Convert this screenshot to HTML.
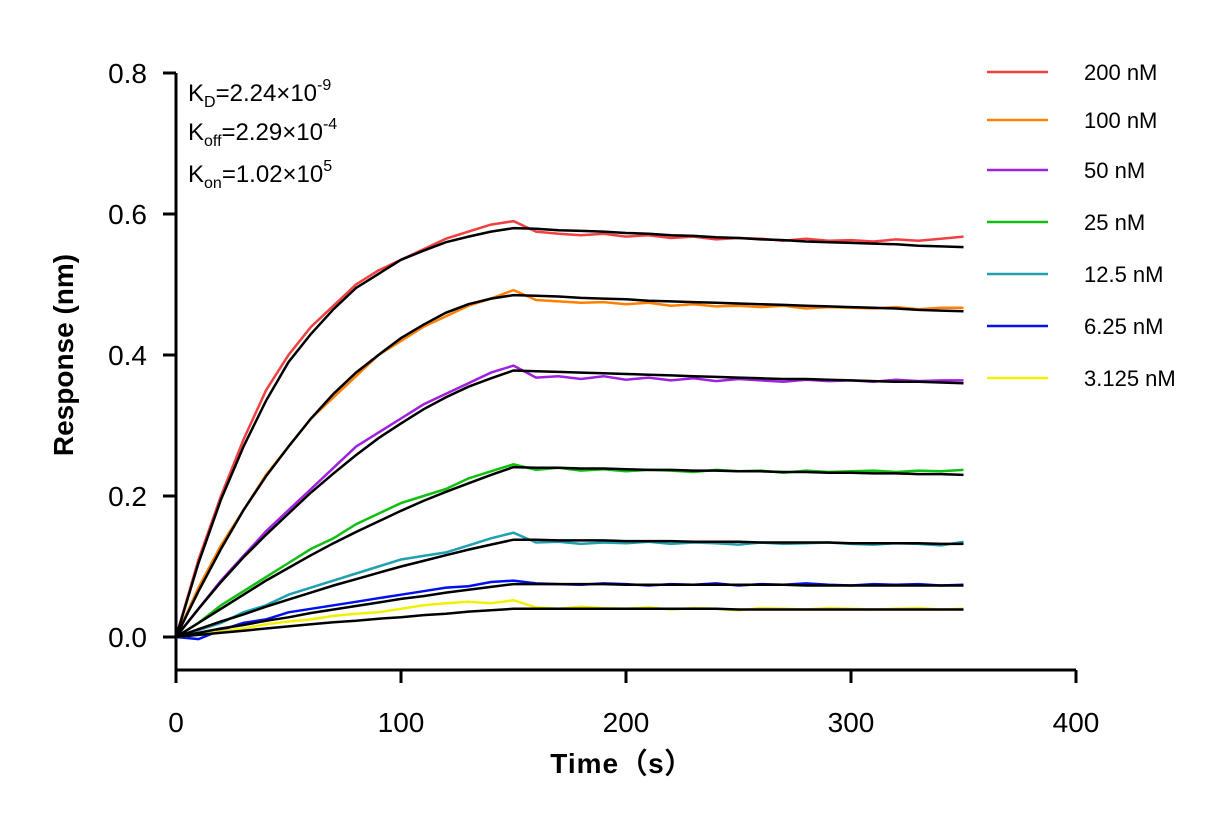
<!DOCTYPE html>
<html><head><meta charset="utf-8"><style>
body{margin:0;background:#fff;}
svg text{font-family:"Liberation Sans",Arial,sans-serif;}
</style></head><body>
<svg id="chart" width="1231" height="825" xmlns="http://www.w3.org/2000/svg"></svg>
<script>
const times=[0,10,20,30,40,50,60,70,80,90,100,110,120,130,140,150,160,170,180,190,200,210,220,230,240,250,260,270,280,290,300,310,320,330,340,350];
const seriesNames=["200 nM","100 nM","50 nM","25 nM","12.5 nM","6.25 nM","3.125 nM"];
const seriesColors=["#f04040","#ff8000","#a020e0","#10c010","#20a0b0","#0010f0","#f0f000"];
const data200=[0,0.11,0.2,0.28,0.35,0.40,0.44,0.47,0.50,0.52,0.535,0.55,0.565,0.575,0.585,0.59,0.575,0.572,0.57,0.572,0.568,0.57,0.566,0.568,0.564,0.566,0.565,0.562,0.565,0.562,0.563,0.561,0.564,0.562,0.565,0.568];
const data100=[0,0.07,0.13,0.18,0.23,0.27,0.31,0.34,0.37,0.40,0.42,0.44,0.455,0.47,0.48,0.492,0.478,0.476,0.474,0.475,0.472,0.474,0.47,0.472,0.469,0.47,0.468,0.47,0.466,0.468,0.467,0.466,0.468,0.465,0.467,0.467];
const data50=[0,0.04,0.08,0.115,0.15,0.18,0.21,0.24,0.27,0.29,0.31,0.33,0.345,0.36,0.375,0.385,0.368,0.37,0.366,0.37,0.365,0.368,0.364,0.367,0.363,0.366,0.364,0.362,0.365,0.363,0.364,0.362,0.365,0.363,0.364,0.364];
const data25=[0,0.02,0.045,0.065,0.085,0.105,0.125,0.14,0.16,0.175,0.19,0.2,0.21,0.225,0.235,0.245,0.237,0.24,0.236,0.238,0.235,0.237,0.236,0.234,0.237,0.235,0.236,0.233,0.236,0.234,0.235,0.236,0.234,0.236,0.235,0.237];
const data12=[0,0.01,0.02,0.035,0.045,0.06,0.07,0.08,0.09,0.1,0.11,0.115,0.12,0.13,0.14,0.148,0.134,0.135,0.132,0.134,0.133,0.135,0.132,0.134,0.133,0.131,0.134,0.132,0.133,0.134,0.132,0.131,0.133,0.132,0.13,0.135];
const data6=[0,-0.003,0.01,0.02,0.025,0.035,0.04,0.045,0.05,0.055,0.06,0.065,0.07,0.072,0.078,0.08,0.076,0.075,0.074,0.076,0.075,0.073,0.075,0.074,0.076,0.073,0.075,0.074,0.076,0.074,0.073,0.075,0.074,0.075,0.073,0.074];
const data3=[0,0.003,0.008,0.012,0.018,0.022,0.025,0.03,0.033,0.035,0.04,0.045,0.048,0.05,0.048,0.052,0.042,0.04,0.043,0.041,0.04,0.042,0.039,0.041,0.04,0.038,0.041,0.04,0.039,0.041,0.04,0.039,0.04,0.041,0.039,0.04];
const fit200=[0,0.105,0.195,0.27,0.335,0.39,0.43,0.465,0.495,0.515,0.535,0.548,0.56,0.568,0.575,0.58,0.579,0.577,0.576,0.575,0.573,0.572,0.57,0.569,0.567,0.566,0.564,0.563,0.561,0.56,0.559,0.558,0.557,0.555,0.554,0.553];
const fit100=[0,0.065,0.125,0.18,0.228,0.27,0.31,0.345,0.375,0.4,0.424,0.443,0.46,0.472,0.48,0.485,0.484,0.483,0.481,0.48,0.479,0.477,0.476,0.475,0.474,0.473,0.472,0.471,0.47,0.469,0.468,0.467,0.466,0.464,0.463,0.462];
const fit50=[0,0.04,0.078,0.113,0.145,0.175,0.205,0.232,0.258,0.282,0.303,0.323,0.34,0.355,0.367,0.378,0.377,0.376,0.375,0.374,0.373,0.372,0.371,0.37,0.369,0.368,0.367,0.366,0.366,0.365,0.364,0.363,0.362,0.362,0.361,0.36];
const fit25=[0,0.02,0.04,0.06,0.08,0.098,0.116,0.133,0.149,0.164,0.179,0.193,0.206,0.218,0.23,0.241,0.24,0.24,0.239,0.239,0.238,0.237,0.237,0.236,0.236,0.235,0.235,0.234,0.234,0.233,0.233,0.232,0.232,0.231,0.231,0.23];
const fit12=[0,0.011,0.022,0.032,0.043,0.053,0.063,0.073,0.082,0.091,0.1,0.108,0.116,0.124,0.131,0.138,0.138,0.137,0.137,0.137,0.136,0.136,0.136,0.135,0.135,0.135,0.134,0.134,0.134,0.134,0.133,0.133,0.133,0.133,0.132,0.132];
const fit6=[0,0.006,0.012,0.017,0.023,0.028,0.034,0.039,0.044,0.049,0.054,0.058,0.063,0.067,0.071,0.075,0.075,0.075,0.075,0.075,0.074,0.074,0.074,0.074,0.074,0.074,0.074,0.074,0.073,0.073,0.073,0.073,0.073,0.073,0.073,0.073];
const fit3=[0,0.003,0.006,0.009,0.012,0.015,0.018,0.021,0.023,0.026,0.028,0.031,0.033,0.036,0.038,0.04,0.04,0.04,0.04,0.04,0.04,0.04,0.04,0.04,0.04,0.039,0.039,0.039,0.039,0.039,0.039,0.039,0.039,0.039,0.039,0.039];
const dataSeries=[data200,data100,data50,data25,data12,data6,data3];
const fitSeries=[fit200,fit100,fit50,fit25,fit12,fit6,fit3];
const xTicks=[0,100,200,300,400];
const yTicks=[0.0,0.2,0.4,0.6,0.8];
const yTickLabels=["0.0","0.2","0.4","0.6","0.8"];

const svg=document.getElementById('chart');
const NS='http://www.w3.org/2000/svg';
const X0=176,X1=1076,Y0=637,Y1=73;
const xs=v=>X0+(v-0)/(400-0)*(X1-X0);
const ys=v=>Y0-(v-0)/(0.8-0)*(Y0-Y1);
function mk(tag,attrs,parent){const e=document.createElementNS(NS,tag);for(const k in attrs)e.setAttribute(k,attrs[k]);(parent||svg).appendChild(e);return e;}

const gData=mk('g',{});


dataSeries.forEach((arr,i)=>{
  const d=arr.map((v,j)=>(j?'L':'M')+xs(times[j]).toFixed(1)+','+ys(v).toFixed(1)).join('');
  const p=mk('path',{d:d,fill:'none',stroke:seriesColors[i],'stroke-width':2.5},gData);
  
  
});
fitSeries.forEach((arr,i)=>{
  const d=arr.map((v,j)=>(j?'L':'M')+xs(times[j]).toFixed(1)+','+ys(v).toFixed(1)).join('');
  const p=mk('path',{d:d,fill:'none',stroke:'#000','stroke-width':2.5},gData);
  
  
});

const ax=mk('path',{d:`M${X0},${Y1} V670 H${X1}`,fill:'none',stroke:'#000','stroke-width':3});


yTicks.forEach((v,i)=>{
  const t=mk('line',{x1:163,x2:X0,y1:ys(v),y2:ys(v),stroke:'#000','stroke-width':3});
  
  
  const l=mk('text',{x:147,y:ys(v)+10,'text-anchor':'end','font-size':28});
  l.textContent=yTickLabels[i];
  
  
});
xTicks.forEach(v=>{
  const t=mk('line',{x1:xs(v),x2:xs(v),y1:670,y2:683,stroke:'#000','stroke-width':3});
  
  
  const l=mk('text',{x:xs(v),y:732,'text-anchor':'middle','font-size':28});
  l.textContent=String(v);
  
  
});

const lg=mk('g',{});


const legY=[72,120,170,222,274,326,378];
seriesNames.forEach((n,i)=>{
  const g=mk('g',{},lg);
  
  
  mk('line',{x1:987,x2:1048,y1:legY[i],y2:legY[i],stroke:seriesColors[i],'stroke-width':2.5},g);
  const t=mk('text',{x:1084,y:legY[i]+8,'font-size':22},g);
  t.textContent=n;
});
</script>
<svg style="position:absolute;left:0;top:0" width="1231" height="825" xmlns="http://www.w3.org/2000/svg">
<text transform="translate(73,355) rotate(-90)" text-anchor="middle" font-size="28" font-weight="bold" font-family="Liberation Sans, sans-serif">Response (nm)</text>
<text x="622" y="773" text-anchor="middle" font-size="28" font-weight="bold" font-family="Liberation Sans, sans-serif" letter-spacing="1">Time（s）</text>
<g font-family="Liberation Sans, sans-serif" font-size="24">
<text x="188" y="101">K<tspan font-size="16" dy="6">D</tspan><tspan dy="-6">=2.24×10</tspan><tspan font-size="16" dy="-11">-9</tspan></text>
<text x="188" y="140">K<tspan font-size="16" dy="6">off</tspan><tspan dy="-6">=2.29×10</tspan><tspan font-size="16" dy="-11">-4</tspan></text>
<text x="188" y="182">K<tspan font-size="16" dy="6">on</tspan><tspan dy="-6">=1.02×10</tspan><tspan font-size="16" dy="-11">5</tspan></text>
</g>
</svg>
</body></html>
